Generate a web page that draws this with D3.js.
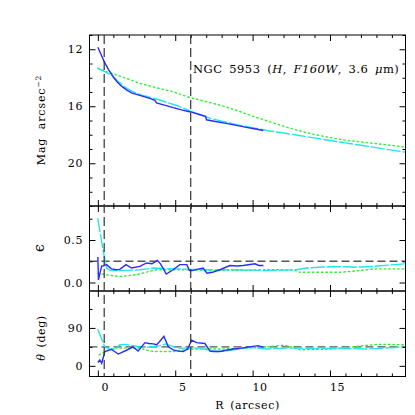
<!DOCTYPE html>
<html>
<head>
<meta charset="utf-8">
<script src="https://cdn.jsdelivr.net/npm/d3@7"></script>
<style>
  body { margin: 0; background: #fff; }
  svg { display: block; font-family: "DejaVu Serif", "Liberation Serif", serif; }
</style>
</head>
<body>
<div id="chart"></div>
<script>
// surface brightness (mag arcsec^-2)
const blueMagR = [0, 0.2, 0.41, 0.7, 0.99, 1.25, 1.53, 1.85, 2.18, 2.6, 3.04, 3.4, 3.68, 3.79, 4.3, 4.87, 5.4, 5.99, 6.5, 6.96, 7.02, 7.5, 8.2, 8.96, 9.6, 10.2, 10.69];
const blueMag  = [11.86, 12.35, 12.87, 13.45, 13.93, 14.3, 14.59, 14.85, 15.06, 15.2, 15.34, 15.47, 15.58, 15.77, 15.92, 16.1, 16.25, 16.4, 16.56, 16.7, 16.95, 17.05, 17.18, 17.34, 17.48, 17.6, 17.7];
const cyanMagR = [0, 0.45, 0.88, 1.3, 1.8, 2.3, 2.8, 3.4, 4.0, 4.6, 5.2, 6.0, 6.6, 7.3, 8.0, 9.0, 10.0, 11, 12, 13, 14, 15, 16, 17, 18, 19, 19.88];
const cyanMag  = [13.34, 13.57, 13.81, 14.25, 14.7, 15.0, 15.2, 15.38, 15.56, 15.78, 15.98, 16.35, 16.6, 16.85, 17.05, 17.3, 17.5, 17.72, 17.88, 18.05, 18.22, 18.4, 18.57, 18.74, 18.9, 19.08, 19.23];
const greenMagR = [0, 0.5, 1.21, 2, 2.71, 3.8, 4.87, 6, 7, 8, 9, 10, 11, 12, 13, 14, 15, 16, 17, 18, 19, 19.88];
const greenMag  = [13.34, 13.55, 13.81, 14.1, 14.4, 14.7, 14.99, 15.4, 15.68, 15.95, 16.3, 16.7, 17.05, 17.4, 17.72, 17.98, 18.2, 18.38, 18.5, 18.62, 18.75, 18.87];

// ellipticity
const blueEpsR = [0, 0.04, 0.24, 0.56, 0.88, 1.2, 1.42, 1.81, 2.18, 2.71, 3.15, 3.5, 3.85, 4.05, 4.42, 4.86, 5.3, 5.75, 5.92, 6.1, 6.4, 6.8, 7.05, 7.4, 7.89, 8.53, 9.0, 9.39, 10.15, 10.4, 10.7];
const blueEps  = [0.30, 0.03, 0.19, 0.21, 0.16, 0.15, 0.155, 0.21, 0.17, 0.19, 0.23, 0.22, 0.26, 0.22, 0.10, 0.15, 0.21, 0.21, 0.14, 0.14, 0.155, 0.17, 0.11, 0.12, 0.15, 0.20, 0.195, 0.20, 0.22, 0.20, 0.20];
const cyanEpsR = [0, 0.34, 0.56, 0.8, 1.5, 2.2, 2.7, 3.2, 3.56, 4.2, 5, 6, 7, 8, 9, 10, 10.9, 12, 12.84, 13.5, 14.3, 15.2, 16, 16.7, 17.3, 17.8, 18.8, 19.88];
const cyanEps  = [0.75, 0.38, 0.17, 0.14, 0.14, 0.145, 0.15, 0.16, 0.17, 0.165, 0.16, 0.155, 0.15, 0.15, 0.15, 0.145, 0.14, 0.145, 0.15, 0.17, 0.18, 0.185, 0.185, 0.18, 0.185, 0.19, 0.205, 0.22];
const greenEpsR = [0, 0.56, 1.42, 2.2, 2.7, 3.3, 3.79, 5, 5.95, 7, 8.75, 10.9, 12.6, 13.06, 14, 15.64, 16.3, 16.9, 17.8, 19, 19.88];
const greenEps  = [0.11, 0.09, 0.07, 0.085, 0.10, 0.13, 0.15, 0.15, 0.15, 0.14, 0.14, 0.15, 0.15, 0.12, 0.12, 0.12, 0.13, 0.14, 0.16, 0.16, 0.16];

// position angle (deg)
const bluePAR = [0, 0.13, 0.25, 0.45, 0.88, 1.32, 1.85, 2.28, 2.6, 3.04, 3.3, 3.58, 3.8, 4.05, 4.27, 4.55, 4.87, 5.2, 5.51, 5.8, 6.06, 6.38, 6.92, 7.24, 7.45, 7.89, 8.3, 8.75, 9.3, 9.8, 10.36, 10.7];
const bluePA  = [8, 14, 6, 34, 39, 28, 37, 45, 35, 55, 53, 52, 50, 60, 70, 45, 38, 35, 34, 40, 61, 55, 53, 35, 34, 34, 37, 40, 42, 45, 48, 44];
const cyanPAR = [0, 0.45, 0.78, 1.1, 1.42, 1.8, 2.3, 2.7, 3.3, 4.0, 4.4, 4.9, 5.3, 6.0, 6.6, 7.2, 7.67, 8.2, 8.75, 9.8, 10.9, 12, 13.06, 14, 15.2, 16.3, 17.4, 18.5, 19.88];
const cyanPA  = [86, 45, 39, 40, 50, 51, 48, 44, 44, 48, 52, 45, 42, 42, 42, 37, 34, 35, 38, 44, 40, 42, 42, 41, 42, 41, 40, 42, 45];
const greenPAR = [0.08, 0.45, 1.0, 2.0, 2.7, 3.2, 3.58, 4.87, 5.95, 8, 9.5, 10.9, 11.97, 12.5, 13.06, 15.2, 16.5, 17.4, 18.2, 19.88];
const greenPA  = [26, 34, 42, 42, 42, 37, 34, 34, 40, 40, 42, 45, 49, 45, 38, 40, 45, 49, 51, 50];

// reference lines
const vLines = [0.41, 6.0];
const epsRef = 0.25;
const paRef = 45;

const xMajor = [0, 5, 10, 15];
const xMinor = d3.range(0, 20, 1);

const width = 415, height = 415;
const left = 89.5, right = 405.5;
const fontFam = '"DejaVu Serif", "Liberation Serif", serif';

const svg = d3.select('#chart').append('svg')
  .attr('width', width).attr('height', height);

const x = d3.scaleLinear().domain([-0.54, 19.88]).range([left, right]);

const panels = [
  { name: 'mag', top: 35, bottom: 206, domain: [23, 11], major: [12, 16, 20], minor: d3.range(11, 24, 1), fmt: d3.format('d'),
    series: [
      { r: greenMagR, v: greenMag, color: '#33ee33', dash: '1.5,3' },
      { r: cyanMagR, v: cyanMag, color: '#1ee6ee', dash: '13,3' },
      { r: blueMagR, v: blueMag, color: '#2b2bff', dash: null }
    ] },
  { name: 'eps', top: 206, bottom: 291, domain: [-0.1, 0.9], major: [0, 0.5], minor: [0.25, 0.75], fmt: d3.format('.1f'), ref: epsRef,
    series: [
      { r: greenEpsR, v: greenEps, color: '#33ee33', dash: '1.5,3' },
      { r: cyanEpsR, v: cyanEps, color: '#1ee6ee', dash: '13,3' },
      { r: blueEpsR, v: blueEps, color: '#2b2bff', dash: null }
    ] },
  { name: 'pa', top: 291, bottom: 376.5, domain: [-25.3, 177.6], major: [0, 90], minor: [45, 135], fmt: d3.format('d'), ref: paRef,
    series: [
      { r: greenPAR, v: greenPA, color: '#33ee33', dash: '1.5,3' },
      { r: cyanPAR, v: cyanPA, color: '#1ee6ee', dash: '13,3' },
      { r: bluePAR, v: bluePA, color: '#2b2bff', dash: null }
    ] }
];

panels.forEach((p, i) => {
  const y = d3.scaleLinear().domain(p.domain).range([p.bottom, p.top]);

  svg.append('clipPath').attr('id', `clip-${p.name}`)
    .append('rect').attr('x', left).attr('y', p.top)
    .attr('width', right - left).attr('height', p.bottom - p.top);

  const g = svg.append('g').attr('clip-path', `url(#clip-${p.name})`);

  // horizontal reference line
  if (p.ref !== undefined) {
    g.append('line')
      .attr('x1', left).attr('x2', right)
      .attr('y1', y(p.ref)).attr('y2', y(p.ref))
      .attr('stroke', '#555').attr('stroke-width', 1.3)
      .attr('stroke-dasharray', '8,4');
  }

  const line = d3.line().x((d) => x(d[0])).y((d) => y(d[1]));
  p.series.forEach((s) => {
    const pts = s.r.map((r, k) => [r, s.v[k]]);
    g.append('path')
      .attr('d', line(pts))
      .attr('fill', 'none')
      .attr('stroke', s.color)
      .attr('stroke-width', 1.4)
      .attr('stroke-dasharray', s.dash)
      .attr('stroke-linecap', s.dash ? 'round' : 'butt');
  });

  // ticks on all four sides, pointing inwards
  const showX = i === panels.length - 1;
  const xMin = xMinor.filter((v) => !xMajor.includes(v));
  const yMin = p.minor.filter((v) => !p.major.includes(v));

  const bAx = svg.append('g').attr('transform', `translate(0,${p.bottom})`)
    .call(d3.axisBottom(x).tickValues(xMajor).tickSize(-6).tickSizeOuter(0)
      .tickFormat(showX ? d3.format('d') : ''));
  svg.append('g').attr('transform', `translate(0,${p.bottom})`)
    .call(d3.axisBottom(x).tickValues(xMin).tickSize(-3).tickSizeOuter(0).tickFormat(''));
  svg.append('g').attr('transform', `translate(0,${p.top})`)
    .call(d3.axisTop(x).tickValues(xMajor).tickSize(-6).tickSizeOuter(0).tickFormat(''));
  svg.append('g').attr('transform', `translate(0,${p.top})`)
    .call(d3.axisTop(x).tickValues(xMin).tickSize(-3).tickSizeOuter(0).tickFormat(''));

  const lAx = svg.append('g').attr('transform', `translate(${left},0)`)
    .call(d3.axisLeft(y).tickValues(p.major).tickSize(-6).tickSizeOuter(0).tickFormat(p.fmt));
  svg.append('g').attr('transform', `translate(${left},0)`)
    .call(d3.axisLeft(y).tickValues(yMin).tickSize(-3).tickSizeOuter(0).tickFormat(''));
  svg.append('g').attr('transform', `translate(${right},0)`)
    .call(d3.axisRight(y).tickValues(p.major).tickSize(-6).tickSizeOuter(0).tickFormat(''));
  svg.append('g').attr('transform', `translate(${right},0)`)
    .call(d3.axisRight(y).tickValues(yMin).tickSize(-3).tickSizeOuter(0).tickFormat(''));

  lAx.selectAll('.tick text').attr('x', -6.5);
  if (showX) {
    bAx.selectAll('.tick text').attr('y', 7).attr('dx', 7);
  }

  // frame
  svg.append('rect')
    .attr('x', left).attr('y', p.top)
    .attr('width', right - left).attr('height', p.bottom - p.top)
    .attr('fill', 'none').attr('stroke', '#000').attr('stroke-width', 1);
});

// vertical dashed lines across all panels
vLines.forEach((r) => {
  svg.append('line')
    .attr('x1', x(r)).attr('x2', x(r))
    .attr('y1', panels[0].top).attr('y2', panels[2].bottom)
    .attr('stroke', '#333').attr('stroke-width', 1.2)
    .attr('stroke-dasharray', '9,4');
});

svg.selectAll('.domain').remove();
svg.selectAll('.tick line').attr('stroke', '#000').attr('stroke-width', 1);
svg.selectAll('.tick text')
  .attr('font-family', fontFam)
  .attr('font-size', 11)
  .attr('letter-spacing', 0.6)
  .attr('fill', '#000');

// axis titles
const fs = 11;
const magLab = svg.append('text')
  .attr('transform', `translate(45,120) rotate(-90)`)
  .attr('text-anchor', 'middle').attr('font-size', fs)
  .attr('letter-spacing', 0.9).attr('word-spacing', 4);
magLab.append('tspan').text('Mag arcsec');
magLab.append('tspan').attr('dy', -4.5).attr('font-size', 7.5).text('−2');

svg.append('text')
  .attr('transform', `translate(44,248) rotate(-90)`)
  .attr('text-anchor', 'middle').attr('font-size', 14)
  .text('ϵ');

const paLab = svg.append('text')
  .attr('transform', `translate(45,338) rotate(-90)`)
  .attr('text-anchor', 'middle').attr('font-size', fs)
  .attr('letter-spacing', 0.6).attr('word-spacing', 2);
paLab.append('tspan').attr('font-style', 'italic').text('θ');
paLab.append('tspan').text(' (deg)');

svg.append('text')
  .attr('x', (left + right) / 2).attr('y', 409)
  .attr('text-anchor', 'middle').attr('font-size', fs)
  .attr('letter-spacing', 0.6).attr('word-spacing', 2)
  .text('R (arcsec)');

// annotation
const note = svg.append('text')
  .attr('x', 193).attr('y', 73).attr('font-size', 11.5)
  .attr('letter-spacing', 0.5).attr('word-spacing', 2.5);
note.append('tspan').text('NGC 5953 (');
note.append('tspan').attr('font-style', 'italic').text('H');
note.append('tspan').text(', ');
note.append('tspan').attr('font-style', 'italic').text('F160W');
note.append('tspan').text(', 3.6 ');
note.append('tspan').attr('font-style', 'italic').text('μ');
note.append('tspan').text('m)');
</script>
</body>
</html>
